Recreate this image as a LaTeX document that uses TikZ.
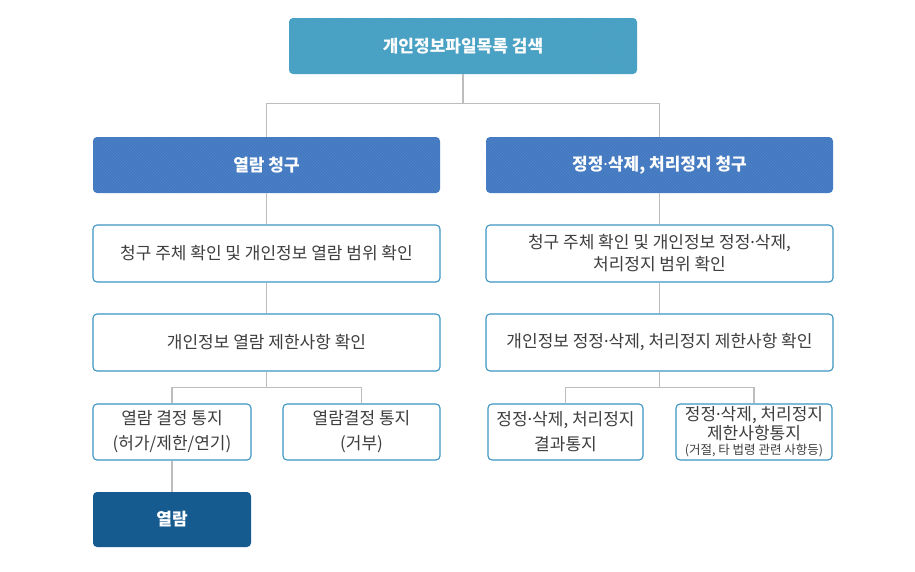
\documentclass[tikz,border=0pt]{standalone}
\usepackage{fontspec}
\setmainfont{Noto Sans CJK KR}
\newfontfamily\latinf{Noto Sans}
\newcommand\mdt{{\latinf ·}}
\usetikzlibrary{patterns}
\definecolor{topc}{HTML}{44A0C4}
\definecolor{midc}{HTML}{4179C2}
\definecolor{darkc}{HTML}{165B8F}
\definecolor{bordc}{HTML}{3C95C2}
\definecolor{linec}{HTML}{BDBDBD}
\definecolor{txtc}{HTML}{3E3E3E}
\tikzset{
  solidbox/.style={rounded corners=4pt, inner sep=2pt, align=center, text=white, font=\fontsize{17}{20}\selectfont\bfseries},
  whitebox/.style={rounded corners=4pt, draw=bordc, line width=1.1pt, fill=white, inner sep=2pt, align=center, text=txtc, font=\fontsize{17}{21}\selectfont},
  conn/.style={draw=linec, line width=1.3pt},
  hatch/.style={pattern=north west lines, pattern color=white!80!black, opacity=0.12}
}
\begin{document}
\begin{tikzpicture}[x=1pt,y=-1pt]
\useasboundingbox (0,0) rectangle (915,571);
\node[solidbox, fill=topc, minimum width=348pt, minimum height=56pt] (top) at (463,46) {개인정보파일목록 검색};
\node[solidbox, fill=midc, minimum width=347pt, minimum height=56pt] (l2a) at (266.5,165) {열람 청구};
\node[solidbox, fill=midc, minimum width=347pt, minimum height=56pt] (l2b) at (659.5,165) {정정\mdt 삭제, 처리정지 청구};
\node[whitebox, minimum width=347pt, minimum height=57pt] (l3a) at (266.5,253.5) {청구 주체 확인 및 개인정보 열람 범위 확인};
\node[whitebox, minimum width=347pt, minimum height=57pt, font=\fontsize{17}{22}\selectfont] (l3b) at (659.5,253.5) {청구 주체 확인 및 개인정보 정정\mdt 삭제,\\처리정지 범위 확인};
\node[whitebox, minimum width=347pt, minimum height=57pt] (l4a) at (266.5,342.5) {개인정보 열람 제한사항 확인};
\node[whitebox, minimum width=347pt, minimum height=57pt] (l4b) at (659.5,342.5) {개인정보 정정\mdt 삭제, 처리정지 제한사항 확인};
\node[whitebox, minimum width=158pt, minimum height=56pt, font=\fontsize{17}{25}\selectfont] (a) at (172,432) {열람 결정 통지\\(허가/제한/연기)};
\node[whitebox, minimum width=157pt, minimum height=56pt, font=\fontsize{17}{25}\selectfont] (b) at (361.5,432) {열람결정 통지\\(거부)};
\node[whitebox, minimum width=155pt, minimum height=56pt, font=\fontsize{17}{25}\selectfont] (c) at (565.5,432) {정정\mdt 삭제, 처리정지\\결과통지};
\node[whitebox, minimum width=156pt, minimum height=56pt, font=\fontsize{17}{19}\selectfont] (d) at (754,432) {정정\mdt 삭제, 처리정지\\제한사항통지\\[-4pt]{\fontsize{12.5}{14}\selectfont (거절, 타 법령 관련 사항등)}};
\node[solidbox, fill=darkc, minimum width=158pt, minimum height=55pt] (yr) at (172,519.5) {열람};
\foreach \n in {top,l2a,l2b}{
  \path[hatch, rounded corners=4pt] (\n.north west) rectangle (\n.south east);
}
\draw[conn] (top.south) -- ++(0,29) -| (l2a.north);
\draw[conn] (top.south) -- ++(0,29) -| (l2b.north);
\draw[conn] (l2a.south) -- (l3a.north);
\draw[conn] (l3a.south) -- (l4a.north);
\draw[conn] (l2b.south) -- (l3b.north);
\draw[conn] (l3b.south) -- (l4b.north);
\draw[conn] (l4a.south) -- ++(0,16) -| (a.north);
\draw[conn] (l4a.south) -- ++(0,16) -| (b.north);
\draw[conn] (l4b.south) -- ++(0,16) -| (c.north);
\draw[conn] (l4b.south) -- ++(0,16) -| (d.north);
\draw[conn] (a.south) -- (yr.north);
\end{tikzpicture}
\end{document}
